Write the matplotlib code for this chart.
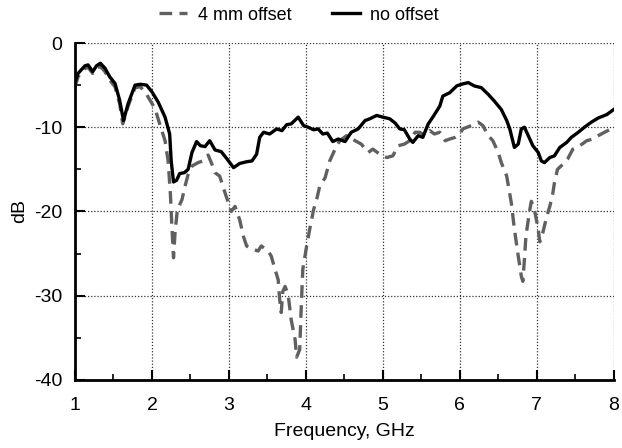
import matplotlib
matplotlib.use("Agg")
from matplotlib import pyplot as plt
from matplotlib.ticker import MultipleLocator

plt.rcParams['font.family'] = ['Liberation Sans', 'DejaVu Sans']
plt.rcParams['axes.unicode_minus'] = False

# ---- data ----
freq_solid = [1.00, 1.04, 1.13, 1.17, 1.23, 1.28, 1.33, 1.39, 1.45, 1.52, 1.58, 1.63, 1.69, 1.78, 1.85,
              1.93, 2.00, 2.08, 2.17, 2.23, 2.25, 2.28, 2.32, 2.36, 2.42, 2.47, 2.52, 2.58, 2.63, 2.69,
              2.75, 2.82, 2.90, 2.97, 3.06, 3.14, 3.23, 3.30, 3.36, 3.40, 3.45, 3.53, 3.62, 3.69, 3.75,
              3.81, 3.90, 3.97, 4.03, 4.10, 4.16, 4.22, 4.28, 4.35, 4.42, 4.51, 4.59, 4.68, 4.77, 4.83,
              4.92, 5.00, 5.09, 5.16, 5.22, 5.28, 5.35, 5.39, 5.46, 5.52, 5.59, 5.65, 5.74, 5.78, 5.87,
              5.96, 6.02, 6.11, 6.19, 6.28, 6.37, 6.45, 6.54, 6.61, 6.65, 6.71, 6.76, 6.80, 6.84, 6.89,
              6.95, 7.02, 7.06, 7.10, 7.17, 7.23, 7.30, 7.39, 7.45, 7.54, 7.62, 7.71, 7.80, 7.91, 8.00]
db_solid = [-4.7, -3.6, -2.7, -2.6, -3.4, -2.7, -2.4, -3.0, -4.0, -4.8, -6.8, -9.2, -7.2, -5.0, -4.9,
            -5.0, -5.8, -7.0, -8.8, -10.8, -14.0, -16.5, -16.3, -15.5, -15.4, -15.0, -13.0, -11.7, -12.2, -12.3,
            -11.6, -12.7, -12.9, -13.7, -14.8, -14.3, -14.1, -14.0, -13.2, -11.2, -10.6, -10.8, -10.2, -10.4, -9.7,
            -9.6, -8.8, -9.8, -10.0, -10.3, -10.2, -10.8, -10.7, -11.7, -11.4, -11.7, -10.6, -10.2, -9.2, -9.0,
            -8.6, -8.8, -9.0, -9.5, -10.2, -10.3, -11.4, -11.8, -11.0, -11.2, -9.6, -8.8, -7.5, -6.3, -5.9,
            -5.1, -4.9, -4.7, -5.1, -5.3, -6.1, -6.9, -7.9, -9.2, -10.2, -12.4, -12.0, -10.2, -10.0, -11.0,
            -12.2, -13.0, -14.0, -14.2, -13.6, -13.4, -12.4, -11.8, -11.2, -10.6, -10.0, -9.4, -8.9, -8.5, -7.9]

freq_offset = [1.00, 1.04, 1.13, 1.17, 1.23, 1.28, 1.33, 1.39, 1.45, 1.52, 1.58, 1.62, 1.69, 1.78, 1.85,
               1.93, 2.04, 2.10, 2.17, 2.21, 2.24, 2.26, 2.28, 2.30, 2.33, 2.39, 2.43, 2.47, 2.52, 2.60,
               2.66, 2.73, 2.78, 2.82, 2.88, 2.95, 3.03, 3.08, 3.14, 3.19, 3.23, 3.32, 3.38, 3.42, 3.51,
               3.55, 3.60, 3.64, 3.66, 3.68, 3.70, 3.73, 3.77, 3.81, 3.86, 3.88, 3.92, 3.94, 3.96, 4.01,
               4.05, 4.10, 4.14, 4.18, 4.25, 4.31, 4.38, 4.44, 4.53, 4.64, 4.72, 4.81, 4.87, 4.96, 5.05,
               5.13, 5.20, 5.28, 5.35, 5.42, 5.48, 5.55, 5.61, 5.67, 5.74, 5.81, 5.87, 5.94, 6.00, 6.04,
               6.15, 6.24, 6.30, 6.37, 6.43, 6.50, 6.54, 6.61, 6.67, 6.71, 6.76, 6.80, 6.82, 6.84, 6.86,
               6.91, 6.93, 6.97, 7.02, 7.04, 7.08, 7.13, 7.17, 7.21, 7.23, 7.27, 7.34, 7.40, 7.47, 7.56,
               7.65, 7.73, 7.80, 7.88, 7.97, 8.00]
db_offset = [-5.2, -4.0, -3.0, -2.9, -3.6, -3.0, -2.8, -3.4, -4.4, -5.2, -7.2, -9.6, -7.5, -5.3, -5.2,
             -6.1, -7.8, -9.6, -11.6, -14.0, -18.0, -22.0, -25.5, -22.5, -19.8, -18.6, -17.0, -15.6, -14.6, -14.2,
             -14.0, -13.3, -14.4, -15.4, -15.8, -17.8, -20.0, -19.4, -21.0, -23.0, -24.1, -24.5, -24.7, -24.1, -24.7,
             -25.3, -26.9, -28.1, -30.5, -32.0, -29.5, -28.9, -29.9, -32.9, -35.2, -37.3, -36.4, -31.3, -26.9, -24.1,
             -22.1, -19.8, -18.6, -17.0, -16.0, -14.0, -12.6, -11.6, -11.0, -11.6, -12.0, -13.0, -12.6, -13.2, -13.6,
             -13.4, -12.2, -12.0, -11.6, -10.6, -10.6, -11.0, -10.4, -10.8, -10.6, -11.6, -11.4, -11.2, -10.8, -10.2,
             -9.8, -9.4, -9.8, -11.0, -11.6, -13.0, -14.2, -15.8, -19.0, -22.1, -25.3, -27.7, -28.3, -25.7, -22.9,
             -19.8, -18.8, -19.8, -22.1, -23.6, -22.5, -20.6, -19.4, -17.8, -16.6, -15.0, -14.4, -13.8, -12.6, -12.2,
             -11.6, -11.4, -11.0, -10.6, -10.2, -9.9]

labels = ['4 mm offset', 'no offset']

fig = plt.figure(figsize=(6.22, 4.48), dpi=100)
ax = fig.add_axes([0.1206, 0.152, 0.866, 0.752])

l1, = ax.plot(freq_offset, db_offset, color='#606060', lw=2.4, dashes=(3.8, 2.2))
l2, = ax.plot(freq_solid, db_solid, color='black', lw=2.4)

ax.set_xlim(1, 8)
ax.set_ylim(-40, 0)
ax.xaxis.set_major_locator(MultipleLocator(1))
ax.xaxis.set_minor_locator(MultipleLocator(0.5))
ax.yaxis.set_major_locator(MultipleLocator(10))
ax.yaxis.set_minor_locator(MultipleLocator(5))
ax.tick_params(which='major', direction='in', length=7, width=1.5, labelsize=14)
ax.tick_params(axis='x', which='major', pad=12.5)
ax.tick_params(axis='y', which='major', pad=9)
ax.tick_params(which='minor', direction='in', length=4, width=1.2)

ax.grid(True, which='major', linestyle=(0, (1, 1.5)), color='#333333', lw=0.9)
ax.spines['top'].set_visible(False)
ax.spines['right'].set_visible(False)
ax.spines['left'].set_linewidth(2)
ax.spines['bottom'].set_linewidth(2)

ax.set_xlabel('Frequency, GHz', fontsize=14, labelpad=6)
ax.set_ylabel('dB', fontsize=14, labelpad=4)

fig.legend([l1, l2], labels, loc='center', bbox_to_anchor=(0.481, 0.966), ncol=2, frameon=False,
           fontsize=13, handlelength=1.55, columnspacing=2.2, handletextpad=0.6)

plt.savefig("out.png", dpi=100)
